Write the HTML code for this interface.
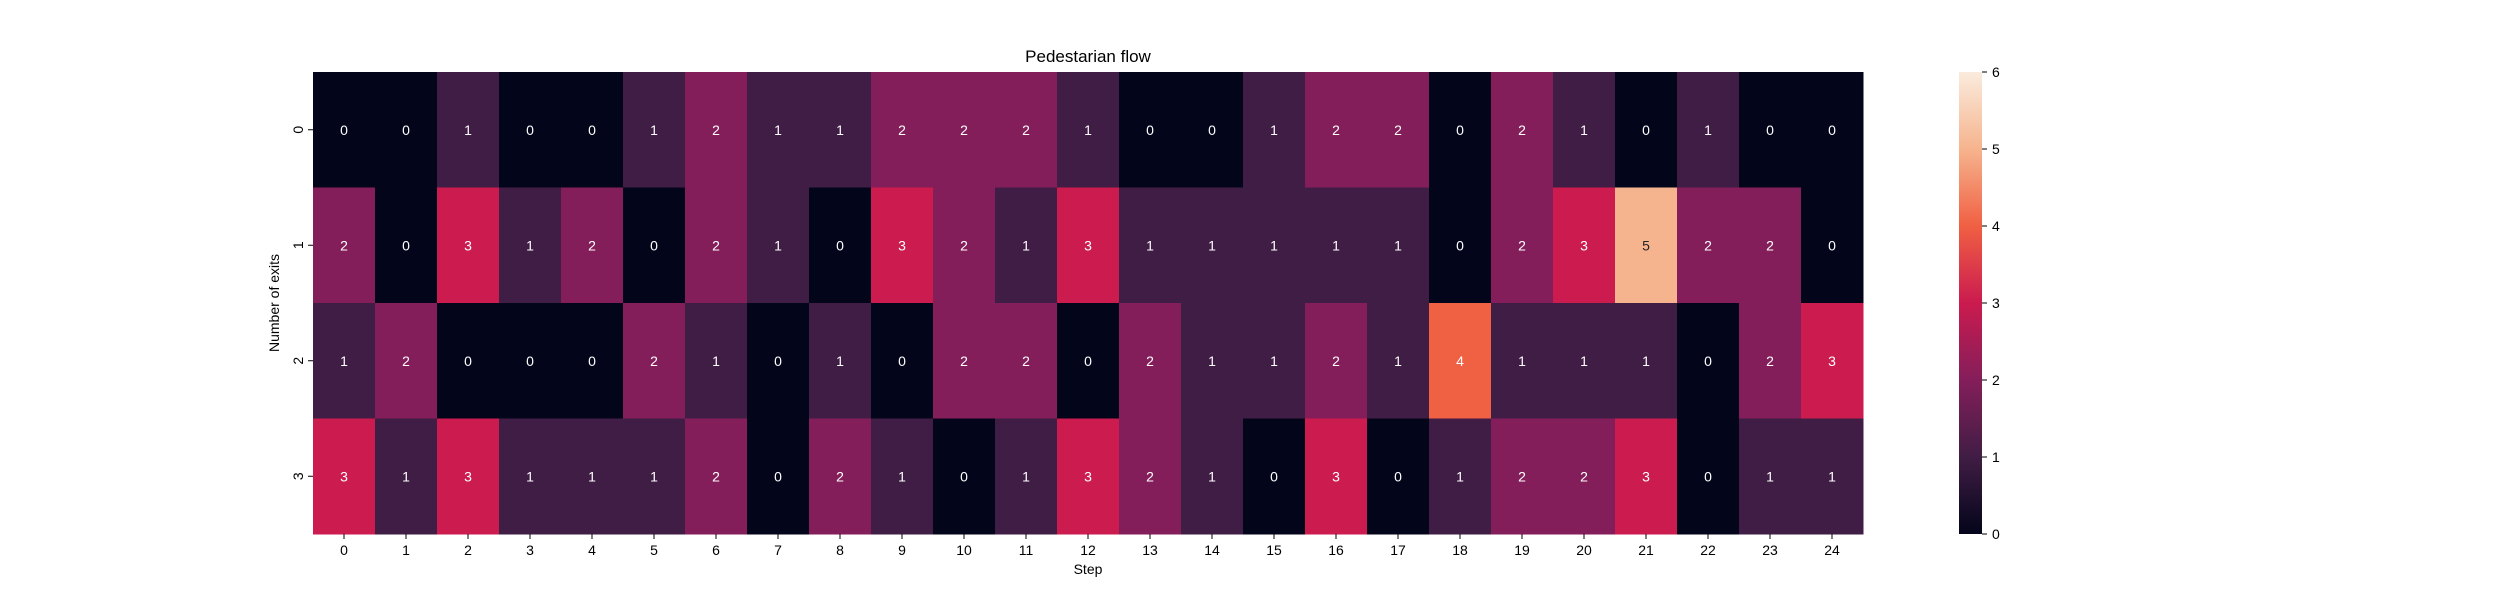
<!DOCTYPE html>
<html><head><meta charset="utf-8"><style>
body{margin:0;background:#fff;}
svg{display:block;font-family:"Liberation Sans","DejaVu Sans",sans-serif;}
</style></head><body>
<svg id="chart" width="2500" height="600" viewBox="0 0 2500 600">
<defs><linearGradient id="cbg" x1="0" y1="1" x2="0" y2="0">
<stop offset="0" stop-color="#03051a"/><stop offset="0.1667" stop-color="#401d44"/><stop offset="0.3333" stop-color="#841e5a"/><stop offset="0.5" stop-color="#cb1b4f"/><stop offset="0.6667" stop-color="#f06043"/><stop offset="0.8333" stop-color="#f6b48e"/><stop offset="1" stop-color="#faebdd"/>
</linearGradient></defs>
<text x="1088" y="62" font-size="17" text-anchor="middle">Pedestarian flow</text>
<text x="0" y="0" font-size="14" text-anchor="middle" transform="translate(279,303) rotate(-90)">Number of exits</text>
<text x="1088" y="574" font-size="14" text-anchor="middle">Step</text>
<g id="cells"></g><g id="ticks"></g>
<rect x="1959" y="72" width="23" height="462" fill="url(#cbg)"/>
<g id="cbticks"></g>
</svg>
<script>
const steps=[0,1,2,3,4,5,6,7,8,9,10,11,12,13,14,15,16,17,18,19,20,21,22,23,24];
const exits=[0,1,2,3];
const row0=[0,0,1,0,0,1,2,1,1,2,2,2,1,0,0,1,2,2,0,2,1,0,1,0,0];
const row1=[2,0,3,1,2,0,2,1,0,3,2,1,3,1,1,1,1,1,0,2,3,5,2,2,0];
const row2=[1,2,0,0,0,2,1,0,1,0,2,2,0,2,1,1,2,1,4,1,1,1,0,2,3];
const row3=[3,1,3,1,1,1,2,0,2,1,0,1,3,2,1,0,3,0,1,2,2,3,0,1,1];
const cbTicks=[0,1,2,3,4,5,6];
const rows=[row0,row1,row2,row3];
const NS="http://www.w3.org/2000/svg";
const L=313,R=1863,T=72,B=534,vmax=6;
const cw=(R-L)/steps.length, rh=(B-T)/exits.length;
const cols=["#03051a","#401d44","#841e5a","#cb1b4f","#f06043","#f6b48e","#faebdd"];
function color(v){const t=v/vmax*6;const i=Math.min(5,Math.floor(t)),f=t-i;
 const a=cols[i],b=cols[i+1];const p=s=>[1,3,5].map(k=>parseInt(s.substr(k,2),16));
 const A=p(a),Bc=p(b);return "rgb("+A.map((x,k)=>Math.round(x+(Bc[k]-x)*f)).join(",")+")";}
const xs=i=>L+i*cw, ys=j=>T+j*rh;
const g=document.getElementById("cells"),tk=document.getElementById("ticks"),cb=document.getElementById("cbticks");
function mk(tag,at,par){const e=document.createElementNS(NS,tag);for(const k in at)e.setAttribute(k,at[k]);par.appendChild(e);return e;}
rows.forEach((r,j)=>r.forEach((v,i)=>{
 const c=mk("rect",{x:xs(i),y:ys(j),width:cw+0.5,height:rh+0.5,fill:color(v)},g);
 
 
 const t=mk("text",{x:xs(i)+cw/2,y:ys(j)+rh/2+5,"font-size":14,"text-anchor":"middle",fill:v>=5?"#262626":"#fff"},g);
 t.textContent=v;
 
 
}));
steps.forEach((s,i)=>{const x=xs(i)+cw/2;
 mk("line",{x1:x,x2:x,y1:B,y2:B+5,stroke:"#000"},tk);
 const t=mk("text",{x:x,y:B+21,"font-size":14,"text-anchor":"middle"},tk);t.textContent=s;
 
 });
exits.forEach((s,j)=>{const y=ys(j)+rh/2;
 mk("line",{x1:L-5,x2:L,y1:y,y2:y,stroke:"#000"},tk);
 const t=mk("text",{x:0,y:0,"font-size":14,"text-anchor":"middle",transform:"translate("+(L-10)+","+y+") rotate(-90)"},tk);t.textContent=s;
 
 });
cbTicks.forEach(v=>{const y=B-v/vmax*(B-T);
 mk("line",{x1:1982,x2:1987,y1:y,y2:y,stroke:"#000"},cb);
 const t=mk("text",{x:1992,y:y+5,"font-size":14},cb);t.textContent=v;
 
 });
</script>
</body></html>
